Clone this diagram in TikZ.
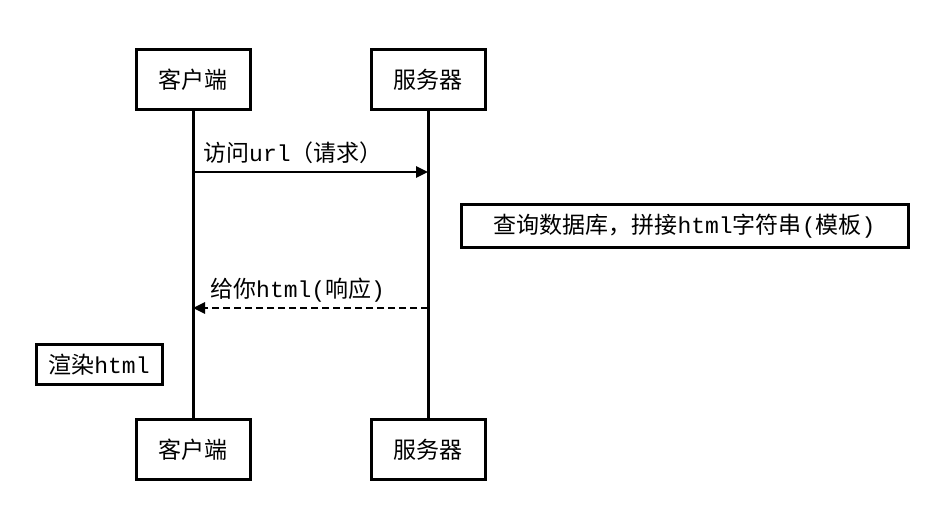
\documentclass[tikz,border=0pt]{standalone}
\usepackage{fontspec}
\setmainfont{Noto Sans CJK SC}
\newfontfamily\monof{Liberation Mono}
\usetikzlibrary{arrows.meta}
\begin{document}
\begin{tikzpicture}[x=1pt,y=-1pt,
  actor/.style={draw,line width=3pt,minimum width=114pt,minimum height=60pt,inner sep=0pt,font=\fontsize{23}{26}\selectfont},
  note/.style={draw,line width=3pt,inner sep=1pt,font=\fontsize{23}{26}\selectfont},
  life/.style={line width=3pt},
  msg/.style={line width=2.5pt,-{Triangle[length=12pt,width=11pt]}},
  lbl/.style={font=\fontsize{23}{26}\selectfont,inner sep=0pt}]
\useasboundingbox (0,0) rectangle (930,510);
\node[actor] (c1) at (193,80) {客户端};
\node[actor] (s1) at (428,80) {服务器};
\node[actor] (c2) at (193,450) {客户端};
\node[actor] (s2) at (428,450) {服务器};
\draw[life] (c1) -- (c2);
\draw[life] (s1) -- (s2);
\coordinate (a1) at (193,172); \coordinate (b1) at (428,172);
\coordinate (a2) at (428,308); \coordinate (b2) at (193,308);
\draw[msg] (a1) -- (b1);
\node[lbl,anchor=west] (l1) at (203,153) {访问{\monof url}（请求）};
\draw[msg,dashed,dash pattern=on 7pt off 4pt] (a2) -- (b2);
\node[lbl,anchor=west] (l2) at (210,290) {给你{\monof html(}响应{\monof )}};
\node[note,minimum width=447pt,minimum height=43pt] (q) at (684.5,226.5) {查询数据库，拼接{\monof html}字符串{\monof (}模板{\monof )}};
\node[note,minimum width=126pt,minimum height=40pt] (r) at (99,365) {渲染{\monof html}};
\end{tikzpicture}
\end{document}
